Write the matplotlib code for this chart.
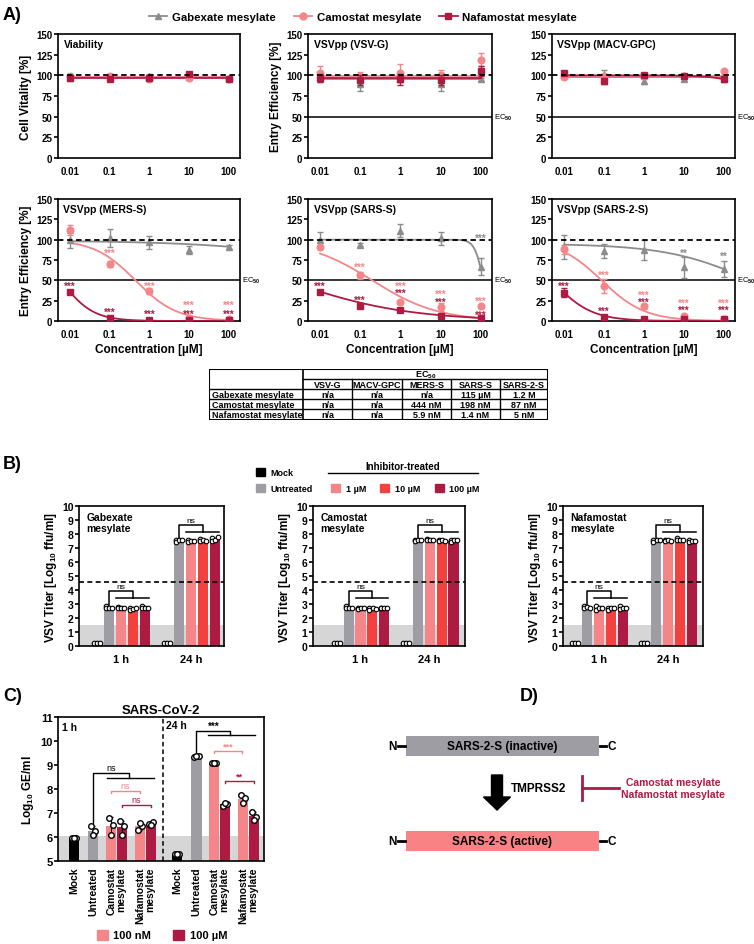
import numpy as np
import matplotlib
matplotlib.use('Agg')
import matplotlib.pyplot as plt
from matplotlib.patches import Patch, Rectangle, FancyArrow
from matplotlib.lines import Line2D

plt.rcParams['font.family'] = ['Liberation Sans', 'DejaVu Sans']
plt.rcParams['font.weight'] = 'bold'
plt.rcParams['axes.labelweight'] = 'bold'
plt.rcParams['axes.linewidth'] = 1.2
plt.rcParams['xtick.major.width'] = 1.2
plt.rcParams['ytick.major.width'] = 1.2
plt.rcParams['mathtext.fontset'] = 'custom'
plt.rcParams['mathtext.rm'] = 'Liberation Sans'
plt.rcParams['mathtext.bf'] = 'Liberation Sans:bold'
plt.rcParams['mathtext.default'] = 'bf'


# //--------------------------< data >--------------------------\\

drugs = ['Gabexate mesylate', 'Camostat mesylate', 'Nafamostat mesylate']
conc = [0.01, 0.1, 1, 10, 100]
conc_labels = ['0.01', '0.1', '1', '10', '100']

# panel A: mean / SD per drug (gabexate, camostat, nafamostat)
via_mean = [[97, 98, 99, 98, 97], [99, 99, 96, 97, 96], [97, 96, 97, 102, 96]]
via_sd = [[1, 1, 3, 1, 1], [1, 1, 1, 1, 1], [1, 1, 1, 1, 1]]
vsvg_mean = [[97, 90, 96, 89, 95], [103, 99, 103, 100, 119], [97, 94, 95, 94, 105]]
vsvg_sd = [[5, 9, 4, 8, 2], [8, 5, 11, 6, 8], [5, 6, 7, 6, 6]]
macv_mean = [[100, 101, 93, 95, 97], [98, 99, 99, 99, 105], [103, 93, 101, 99, 95]]
macv_sd = [[2, 5, 3, 2, 2], [2, 3, 2, 2, 2], [2, 4, 2, 2, 3]]
mers_mean = [[99, 102, 97, 87, 91], [112, 70, 37, 4, 3], [36, 4, 1.5, 1, 1]]
mers_sd = [[9, 11, 8, 5, 3], [6, 4, 4, 1, 1], [2, 1, 1, 0.5, 0.5]]
sars_mean = [[100, 94, 111, 102, 67], [91, 56, 23, 17, 18], [36, 19, 13, 6, 4]]
sars_sd = [[10, 2, 8, 8, 10], [2, 4, 2, 5, 2], [2, 3, 2, 1, 1]]
sars2_mean = [[91, 86, 87, 66, 64], [88, 43, 18, 6, 3], [35, 5, 3, 3, 2]]
sars2_sd = [[15, 9, 12, 13, 10], [6, 9, 3, 1, 1], [6, 1, 1, 1, 1]]

# fitted curves: (top, EC50 in uM, hill slope); None = flat
via_fit = [(98, None, None), (97.5, None, None), (97, None, None)]
vsvg_fit = [(96, None, None), (99, None, None), (96.5, None, None)]
macv_fit = [(98.5, None, None), (99.5, None, None), (100, 2000, 1.0)]
mers_fit = [(99, 3e6, 0.24), (100, 0.444, 0.84), (100, 0.0059, 1.09)]
sars_fit = [(100, 115, 4.1), (100, 0.198, 0.53), (100, 0.0014, 0.29)]
sars2_fit = [(95, 600, 0.4), (100, 0.087, 0.8), (100, 0.005, 0.89)]

# significance: (drug, conc, y, label)
mers_stars = [(2, 0.01, 46, '***'), (1, 0.1, 87, '***'), (2, 0.1, 14, '***'), (1, 1, 46, '***'),
              (2, 1, 12, '***'), (1, 10, 23, '***'), (2, 10, 12, '***'), (1, 100, 23, '***'),
              (2, 100, 12, '***')]
sars_stars = [(2, 0.01, 46, '***'), (1, 0.1, 69, '***'), (2, 0.1, 29, '***'), (1, 1, 46, '***'),
              (2, 1, 38, '***'), (1, 10, 36, '***'), (2, 10, 26, '***'), (1, 100, 28, '***'),
              (2, 100, 10, '***'), (0, 100, 105, '***')]
sars2_stars = [(2, 0.01, 46, '***'), (1, 0.1, 60, '***'), (2, 0.1, 15, '***'), (1, 1, 35, '***'),
               (2, 1, 27, '***'), (1, 10, 25, '***'), (2, 10, 17, '***'), (1, 100, 25, '***'),
               (2, 100, 17, '***'), (0, 10, 87, '**'), (0, 100, 83, '**')]

# EC50 table
tab_viruses = ['VSV-G', 'MACV-GPC', 'MERS-S', 'SARS-S', 'SARS-2-S']
tab_gab = ['n/a', 'n/a', 'n/a', '115 µM', '1.2 M']
tab_cam = ['n/a', 'n/a', '444 nM', '198 nM', '87 nM']
tab_naf = ['n/a', 'n/a', '5.9 nM', '1.4 nM', '5 nM']

# panel B: VSV titer replicates [mock, untreated, 1 uM, 10 uM, 100 uM]
b_times = ['1 h', '24 h']
b_conds = ['Mock', 'Untreated', '1 µM', '10 µM', '100 µM']
gab_1h = [[0.2, 0.2, 0.2], [2.85, 2.7, 2.75, 2.72], [2.8, 2.7, 2.72, 2.75], [2.7, 2.6, 2.65, 2.7], [2.85, 2.7, 2.75, 2.75]]
gab_24h = [[0.2, 0.2, 0.2], [7.6, 7.45, 7.6, 7.55], [7.6, 7.45, 7.5, 7.5], [7.65, 7.5, 7.55, 7.5], [7.75, 7.5, 7.6, 7.8]]
cam_1h = [[0.2, 0.2, 0.2], [2.85, 2.7, 2.75, 2.75], [2.7, 2.65, 2.75, 2.75], [2.75, 2.6, 2.7, 2.65], [2.75, 2.7, 2.75, 2.75]]
cam_24h = [[0.2, 0.2, 0.2], [7.6, 7.5, 7.6, 7.55], [7.65, 7.55, 7.6, 7.6], [7.6, 7.5, 7.6, 7.5], [7.55, 7.45, 7.55, 7.55]]
naf_1h = [[0.2, 0.2, 0.2], [2.85, 2.7, 2.8, 2.75], [2.85, 2.6, 2.75, 2.7], [2.75, 2.6, 2.7, 2.7], [2.85, 2.65, 2.75, 2.7]]
naf_24h = [[0.2, 0.2, 0.2], [7.6, 7.45, 7.6, 7.6], [7.6, 7.5, 7.55, 7.5], [7.7, 7.55, 7.6, 7.6], [7.55, 7.45, 7.5, 7.5]]
b_lod = 1.5
b_cutoff = 4.6

# panel C: SARS-CoV-2 log10 GE/ml replicates
c_groups = ['Mock', 'Untreated', 'Camostat\nmesylate', 'Nafamostat\nmesylate']
c_doses = ['100 nM', '100 µM']
c_1h_mock = [5.97, 5.97, 5.97]
c_1h_untr = [6.45, 6.25, 6.1]
c_1h_cam = [[6.8, 6.5, 6.1], [6.65, 6.45, 6.1]]
c_1h_naf = [[6.28, 6.45, 6.6], [6.55, 6.62, 6.5]]
c_24h_mock = [5.3, 5.3, 5.3]
c_24h_untr = [9.33, 9.36, 9.37]
c_24h_cam = [[9.08, 9.08, 9.08], [7.3, 7.38, 7.4]]
c_24h_naf = [[7.75, 7.62, 7.42], [7.05, 6.85, 6.7]]
c_lod = 6.05


# //--------------------------< helpers >--------------------------\\

W, H = 754, 945
c_gab = '#8c8c8c'
c_cam = '#f4868a'
c_naf = '#ad1a42'
c_untr = '#9e9da3'
c_10 = '#f2413f'

def box(x0, y0, x1, y1):
    # pixel box (top-left origin) -> figure rect
    return [x0 / W, 1 - y1 / H, (x1 - x0) / W, (y1 - y0) / H]

fig = plt.figure(figsize=(7.54, 9.45), dpi=100)


# //--------------------------< panel A >--------------------------\\

def dose_panel(rect, title, means, sds, fits, stars=(), ylabel=None, xlabel=False, ec50=True):
    ax = fig.add_axes(box(*rect))
    cols = [c_gab, c_cam, c_naf]
    marks = ['^', 'o', 's']
    xs = np.logspace(-2, 2, 300)
    for i in range(3):
        top, ec, h = fits[i]
        if ec is None:
            yfit = np.full_like(xs, top)
        else:
            yfit = top / (1 + (xs / ec) ** h)
        ax.plot(xs, yfit, color=cols[i], lw=1.3, zorder=2 + i)
        ax.errorbar(conc, means[i], yerr=sds[i], fmt=marks[i], color=cols[i], ms=4.8,
                    capsize=2, elinewidth=1, capthick=1, zorder=3 + i)
    ax.axhline(100, color='k', ls=(0, (3, 2)), lw=1.3, zorder=7)
    if ec50:
        ax.axhline(50, color='k', lw=1.1, zorder=1)
        ax.text(1.012, 50, 'EC$_{50}$', transform=ax.get_yaxis_transform(), fontsize=5.5,
                fontweight='normal', va='center', ha='left')
    for d, x, y, s in stars:
        ax.text(x, y - 3, s, color=cols[d], ha='center', va='center', fontsize=7)
    ax.set_xscale('log')
    ax.set_xlim(10 ** -2.3, 10 ** 2.28)
    ax.set_ylim(0, 150)
    ax.set_xticks(conc)
    ax.set_xticklabels(conc_labels)
    ax.minorticks_off()
    ax.set_yticks([0, 25, 50, 75, 100, 125, 150])
    ax.tick_params(axis='x', length=0, labelsize=7, pad=6)
    ax.tick_params(axis='y', length=3, labelsize=7, pad=1)
    ax.text(0.03, 0.92, title, transform=ax.transAxes, fontsize=7.5, va='center', ha='left')
    if ylabel:
        ax.set_ylabel(ylabel, fontsize=8.5, labelpad=3)
    if xlabel:
        ax.set_xlabel('Concentration [µM]', fontsize=8.5, labelpad=3)
    return ax

cols_x = [(58, 240), (308, 492), (552, 735)]
row1 = (35, 159)
row2 = (200, 322)
dose_panel((cols_x[0][0], row1[0], cols_x[0][1], row1[1]), 'Viability', via_mean, via_sd, via_fit,
           ylabel='Cell Vitality [%]', ec50=False)
dose_panel((cols_x[1][0], row1[0], cols_x[1][1], row1[1]), 'VSVpp (VSV-G)', vsvg_mean, vsvg_sd, vsvg_fit,
           ylabel='Entry Efficiency [%]')
dose_panel((cols_x[2][0], row1[0], cols_x[2][1], row1[1]), 'VSVpp (MACV-GPC)', macv_mean, macv_sd, macv_fit)
dose_panel((cols_x[0][0], row2[0], cols_x[0][1], row2[1]), 'VSVpp (MERS-S)', mers_mean, mers_sd, mers_fit,
           stars=mers_stars, ylabel='Entry Efficiency [%]', xlabel=True)
dose_panel((cols_x[1][0], row2[0], cols_x[1][1], row2[1]), 'VSVpp (SARS-S)', sars_mean, sars_sd, sars_fit,
           stars=sars_stars, xlabel=True)
dose_panel((cols_x[2][0], row2[0], cols_x[2][1], row2[1]), 'VSVpp (SARS-2-S)', sars2_mean, sars2_sd, sars2_fit,
           stars=sars2_stars, xlabel=True)

leg_handles = [Line2D([], [], color=c, marker=m, ms=5, lw=1.3) for c, m in zip([c_gab, c_cam, c_naf], ['^', 'o', 's'])]
fig.legend(leg_handles, drugs, ncol=3, loc='center', bbox_to_anchor=(363 / W, 1 - 18 / H), frameon=False,
           fontsize=8.2, handlelength=1.6, columnspacing=1.6, handletextpad=0.4)

# EC50 table
axt = fig.add_axes(box(209, 370, 548, 421))
axt.set_xlim(209, 548)
axt.set_ylim(421, 370)
axt.axis('off')
col_edges = [209, 303, 352, 402, 451, 500, 548]
row_edges = [370, 380, 390, 400, 410, 421]
axt.add_patch(Rectangle((209, 370), 339, 51, fill=False, lw=1.5, ec='k'))
axt.plot([303, 303], [370, 421], color='k', lw=1.2)
axt.plot([303, 548], [380, 380], color='k', lw=1)
for y in row_edges[2:-1]:
    axt.plot([209, 548], [y, y], color='k', lw=1)
for x in col_edges[2:-1]:
    axt.plot([x, x], [380, 421], color='k', lw=1)
axt.text(425.5, 375.5, 'EC$_{50}$', ha='center', va='center', fontsize=6.5)
for i, v in enumerate(tab_viruses):
    axt.text((col_edges[i + 1] + col_edges[i + 2]) / 2, 385.5, v, ha='center', va='center', fontsize=6.5)
for r, (name, vals) in enumerate(zip(drugs, [tab_gab, tab_cam, tab_naf])):
    yc = (row_edges[r + 2] + row_edges[r + 3]) / 2 + 0.5
    axt.text(212, yc, name, ha='left', va='center', fontsize=6.5)
    for i, v in enumerate(vals):
        axt.text((col_edges[i + 1] + col_edges[i + 2]) / 2, yc, v, ha='center', va='center', fontsize=6.5)


# //--------------------------< panel B >--------------------------\\

b_cols = ['k', c_untr, c_cam, c_10, c_naf]

def titer_panel(rect, xlim, name, reps_1h, reps_24h):
    ax = fig.add_axes(box(*rect))
    ax.axhspan(0, b_lod, color='#d6d6d6', lw=0, zorder=0)
    ax.axhline(b_cutoff, color='k', ls=(0, (3, 2)), lw=1.2, zorder=4)
    for t, reps in enumerate([reps_1h, reps_24h]):
        x0 = t * 5.83
        for j, vals in enumerate(reps):
            xc = x0 + j
            ax.bar(xc, np.mean(vals), width=0.85, color=b_cols[j], zorder=1)
            offs = [-0.25, 0, 0.25] if len(vals) == 3 else [-0.25, -0.25, 0.02, 0.27]
            ax.plot(xc + np.array(offs), vals, 'o', ms=3.3, mfc='white', mec='k', mew=0.8, zorder=3)
        # ns bracket
        hi = np.max(reps[1]) + 1.05
        ax.plot([x0 + 1, x0 + 1, x0 + 3, x0 + 3], [np.max(reps[1]) + 0.1, hi, hi, hi - 0.5], color='k', lw=1.1)
        ax.plot([x0 + 1.6, x0 + 4.35], [hi - 0.5, hi - 0.5], color='k', lw=1.1)
        ax.text(x0 + 2, hi + 0.08, 'ns', ha='center', va='bottom', fontsize=6, fontweight='normal')
    ax.set_xlim(*xlim)
    ax.set_ylim(0, 10)
    ax.set_yticks(range(11))
    ax.set_xticks([2, 7.83])
    ax.set_xticklabels(b_times)
    ax.tick_params(axis='x', length=0, labelsize=8, pad=6)
    ax.tick_params(axis='y', length=3, labelsize=7.5, pad=1)
    ax.set_ylabel('VSV Titer [Log$_{10}$ ffu/ml]', fontsize=8.5, labelpad=2)
    ax.text(0.05, 0.955, name, transform=ax.transAxes, fontsize=7.5, va='top', ha='left', linespacing=1.15)

titer_panel((79, 507, 224, 647), (-1.5, 10.6), 'Gabexate\nmesylate', gab_1h, gab_24h)
titer_panel((313, 507, 465, 647), (-2.0, 10.8), 'Camostat\nmesylate', cam_1h, cam_24h)
titer_panel((563, 507, 703, 647), (-1.0, 10.75), 'Nafamostat\nmesylate', naf_1h, naf_24h)

fig.legend([Patch(color='k'), Patch(color=c_untr)], b_conds[:2], loc='upper left',
           bbox_to_anchor=(248 / W, 1 - 461 / H), frameon=False, fontsize=6.5, handlelength=1,
           handleheight=1, labelspacing=0.7, handletextpad=0.6)
fig.legend([Patch(color=c) for c in [c_cam, c_10, c_naf]], b_conds[2:], loc='upper left', ncol=3,
           bbox_to_anchor=(323 / W, 1 - 477 / H), frameon=False, fontsize=6.5, handlelength=1,
           handleheight=1, columnspacing=1.6, handletextpad=0.6)
fig.text(403 / W, 1 - 467 / H, 'Inhibitor-treated', ha='center', va='center', fontsize=7)
fig.add_artist(Line2D([328 / W, 478 / W], [1 - 474 / H, 1 - 474 / H], transform=fig.transFigure, color='k', lw=1))


# //--------------------------< panel C >--------------------------\\

axc = fig.add_axes(box(58, 718, 264, 862))
axc.axhspan(5, c_lod, color='#d6d6d6', lw=0, zorder=0)
centers = [0, 1.75, 3.85, 6.5]
c_ticks = []
for t, (mock, untr, cam, naf) in enumerate([(c_1h_mock, c_1h_untr, c_1h_cam, c_1h_naf),
                                             (c_24h_mock, c_24h_untr, c_24h_cam, c_24h_naf)]):
    x0 = t * 9.4
    series = [(x0 + centers[0], mock, 'k'), (x0 + centers[1], untr, c_untr),
              (x0 + centers[2] - 0.5, cam[0], c_cam), (x0 + centers[2] + 0.5, cam[1], c_naf),
              (x0 + centers[3] - 0.5, naf[0], c_cam), (x0 + centers[3] + 0.5, naf[1], c_naf)]
    for xc, vals, col in series:
        m = np.mean(vals)
        axc.bar(xc, m - 5, bottom=5, width=0.95, color=col, zorder=1)
        axc.errorbar(xc, m, yerr=np.std(vals, ddof=1), color='k', capsize=1.5, lw=0.8, zorder=2)
        axc.plot(xc + np.array([-0.2, 0.2, 0.0]), vals, 'o', ms=4, mfc='white', mec='k', mew=1, zorder=3)
    c_ticks += [x0 + c for c in centers]

def bracket(ax, xa, xb, y, col, txt, drop=0.1):
    ax.plot([xa, xa, xb, xb], [y - drop, y, y, y - drop], color=col, lw=1)
    ax.text((xa + xb) / 2, y + 0.03, txt, color=col, ha='center', va='bottom', fontsize=6.5,
            fontweight='normal' if txt == 'ns' else 'bold')

# 1 h comparisons
axc.plot([1.75, 1.75, 5.0, 5.0], [6.6, 8.67, 8.67, 8.46], color='k', lw=1)
axc.plot([3.0, 7.3], [8.46, 8.46], color='k', lw=1)
axc.text(3.4, 8.72, 'ns', ha='center', va='bottom', fontsize=6.5, fontweight='normal')
bracket(axc, 3.35, 6.0, 7.92, c_cam, 'ns')
bracket(axc, 4.35, 7.0, 7.33, c_naf, 'ns')
# 24 h comparisons
axc.plot([11.15, 11.15, 14.2, 14.2], [9.55, 10.42, 10.42, 10.25], color='k', lw=1)
axc.plot([12.2, 16.45], [10.25, 10.25], color='k', lw=1)
axc.text(12.7, 10.42, '***', ha='center', va='bottom', fontsize=7)
bracket(axc, 12.75, 15.3, 9.58, c_cam, '***')
bracket(axc, 13.75, 16.4, 8.33, c_naf, '**')

axc.axvline(8.1, color='k', ls=(0, (3, 2)), lw=1.1)
axc.set_xlim(-1.45, 17.3)
axc.set_ylim(5, 11)
axc.set_yticks(range(5, 12))
axc.set_xticks(c_ticks)
axc.set_xticklabels(c_groups * 2, rotation=90, ma='right', fontsize=7.5, linespacing=1.0)
axc.tick_params(axis='x', length=0, pad=4)
axc.tick_params(axis='y', length=3, labelsize=8, pad=1)
axc.set_ylabel('Log$_{10}$ GE/ml', fontsize=8.5, labelpad=3)
axc.text(0.02, 0.965, '1 h', transform=axc.transAxes, fontsize=7.5, va='top')
axc.text(8.35, 10.86, '24 h', fontsize=7.5, va='top')
axc.set_title('SARS-CoV-2', fontsize=9.5, fontweight='bold', pad=3)

fig.legend([Patch(color=c_cam), Patch(color=c_naf)], c_doses, ncol=2, loc='center',
           bbox_to_anchor=(162 / W, 1 - 936 / H), frameon=False, fontsize=8, handlelength=1,
           handleheight=1, columnspacing=2.0, handletextpad=0.5)


# //--------------------------< panel D >--------------------------\\

axd = fig.add_axes(box(385, 690, 754, 890))
axd.set_xlim(385, 754)
axd.set_ylim(890, 690)
axd.axis('off')
for yy, col, label in [(747, c_untr, 'SARS-2-S (inactive)'), (842, '#f98384', 'SARS-2-S (active)')]:
    axd.add_patch(Rectangle((406, yy - 10), 193, 20, color=col, lw=0))
    axd.text(502, yy, label, ha='center', va='center', fontsize=8.5)
    axd.text(392, yy, 'N', ha='center', va='center', fontsize=8.5)
    axd.plot([398, 405], [yy, yy], color='k', lw=2)
    axd.plot([600, 606], [yy, yy], color='k', lw=2)
    axd.text(612, yy, 'C', ha='center', va='center', fontsize=8.5)
axd.add_patch(FancyArrow(497, 776, 0, 35, width=11, head_width=27, head_length=13,
                         length_includes_head=True, color='k'))
axd.text(511, 789, 'TMPRSS2', ha='left', va='center', fontsize=8.5)
axd.plot([582, 582], [777, 801], color=c_naf, lw=2)
axd.plot([582, 619], [789, 789], color=c_naf, lw=2)
axd.text(673, 789, 'Camostat mesylate\nNafamostat mesylate', ha='center', va='center', color=c_naf,
         fontsize=7.5, linespacing=1.15)


# //--------------------------< panel letters >--------------------------\\

for lab, x, y in [('A)', 3, 15), ('B)', 3, 465), ('C)', 3, 697), ('D)', 520, 697)]:
    fig.text(x / W, 1 - y / H, lab, fontsize=13, va='center', ha='left')

fig.savefig('out.png', dpi=100)
